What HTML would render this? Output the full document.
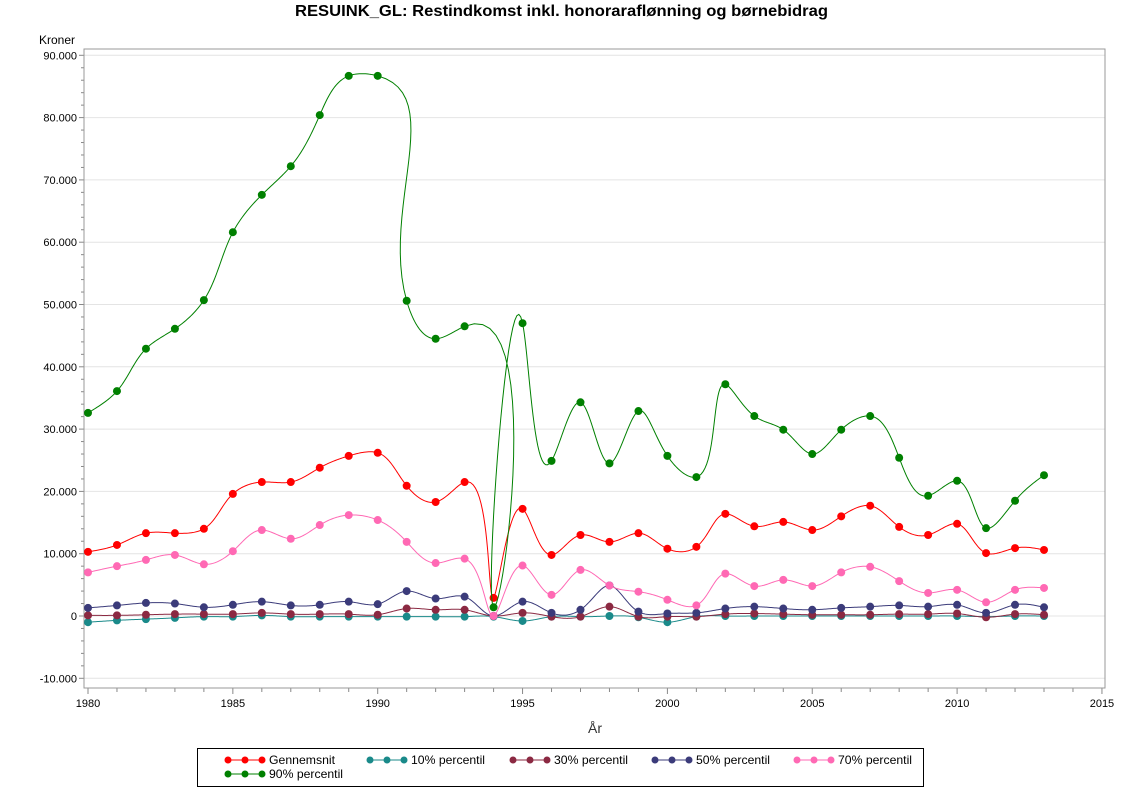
<!DOCTYPE html>
<html><head><meta charset="utf-8"><style>
body{margin:0;background:#fff;font-family:"Liberation Sans",Arial,sans-serif}
svg text{font-family:"Liberation Sans",Arial,sans-serif}
</style></head><body>
<svg id="s" width="1122" height="793" xmlns="http://www.w3.org/2000/svg">
<text x="295" y="16" font-size="16" font-weight="bold" textLength="533" lengthAdjust="spacingAndGlyphs">RESUINK_GL:  Restindkomst inkl. honoraraflønning og børnebidrag</text>
<text x="39" y="44" font-size="12">Kroner</text>
<g id="grid"></g>
<rect x="84" y="49" width="1021" height="639" fill="none" stroke="#999"/>
<g id="series"></g>
<text x="595" y="733" text-anchor="middle" font-size="14" fill="#333">År</text>
<rect x="197.5" y="748.5" width="726" height="38" fill="none" stroke="#000"/>
<g id="leg" font-size="12"></g>
</svg>
<script>
const NS="http://www.w3.org/2000/svg";
const X=y=>88+(y-1980)*28.97, Y=v=>616-v*0.00623;
function el(t,a,p,txt){const e=document.createElementNS(NS,t);for(const k in a)e.setAttribute(k,a[k]);if(txt!==undefined)e.textContent=txt;p.appendChild(e);return e;}
const g=document.getElementById('grid');
for(let v=-10000;v<=90000;v+=10000){const y=Y(v);
 el('line',{x1:84,x2:1105,y1:y,y2:y,stroke:'#e4e4e4'},g);
 el('line',{x1:79,x2:84,y1:y,y2:y,stroke:'#888'},g);
 el('text',{x:77,y:y+4,'text-anchor':'end','font-size':11},g,v.toLocaleString('de-DE'));}
for(let v=-10000;v<90000;v+=2000){if(v%10000)el('line',{x1:81,x2:84,y1:Y(v),y2:Y(v),stroke:'#888'},g);}
for(let yr=1980;yr<=2015;yr++){const x=X(yr),m=yr%5==0;
 el('line',{x1:x,x2:x,y1:688,y2:m?694:692,stroke:'#888'},g);
 if(m)el('text',{x:x,y:707,'text-anchor':'middle','font-size':11},g,yr);}
const D={
'#ff0000':[10300,11400,13300,13300,14000,19600,21500,21500,23800,25700,26200,20900,18300,21500,2900,17200,9800,13000,11900,13300,10800,11100,16400,14400,15100,13800,16000,17700,14300,13000,14800,10100,10900,10600],
'#1a8a8a':[-1000,-700,-500,-300,-100,-100,100,-100,-100,-100,-100,-100,-100,-100,-100,-800,-100,-100,0,-200,-1000,-100,0,0,0,0,0,0,0,0,0,-100,0,0],
'#8b2942':[100,100,200,300,300,300,500,300,300,300,200,1200,1000,1000,0,500,-100,-100,1500,-100,-100,-100,300,400,300,200,200,200,300,300,400,-200,300,200],
'#3b3b7a':[1300,1700,2100,2000,1400,1800,2300,1700,1800,2300,1900,4000,2800,3100,0,2300,500,1000,4900,700,400,500,1200,1500,1200,1000,1300,1500,1700,1500,1800,500,1800,1400],
'#ff69b4':[7000,8000,9000,9800,8300,10400,13800,12400,14600,16200,15400,11900,8500,9200,0,8100,3400,7400,4900,3900,2600,1700,6800,4800,5800,4800,7000,7900,5600,3700,4200,2200,4200,4500],
'#008000':[32600,36100,42900,46100,50700,61600,67600,72200,80400,86700,86700,50600,44500,46500,1400,47000,24900,34300,24500,32900,25700,22300,37200,32100,29900,26000,29900,32100,25400,19300,21700,14100,18500,22600]};
function natural(t,v){const n=t.length,h=[],a=new Array(n).fill(0),b=new Array(n).fill(0),c=new Array(n).fill(0),r=new Array(n).fill(0);
 for(let i=0;i<n-1;i++)h[i]=t[i+1]-t[i];
 b[0]=1;b[n-1]=1;
 for(let i=1;i<n-1;i++){a[i]=h[i-1];b[i]=2*(h[i-1]+h[i]);c[i]=h[i];r[i]=6*((v[i+1]-v[i])/h[i]-(v[i]-v[i-1])/h[i-1]);}
 for(let i=1;i<n;i++){const m=a[i]/b[i-1];b[i]-=m*c[i-1];r[i]-=m*r[i-1];}
 const M=new Array(n);M[n-1]=r[n-1]/b[n-1];
 for(let i=n-2;i>=0;i--)M[i]=(r[i]-c[i]*M[i+1])/b[i];
 return (i,s)=>{const hh=h[i],A=(t[i+1]-s)/hh,B=(s-t[i])/hh;
  return A*v[i]+B*v[i+1]+((A*A*A-A)*M[i]+(B*B*B-B)*M[i+1])*hh*hh/6;};}
const s=document.getElementById('series');
for(const c in D){const P=D[c].map((v,i)=>[X(1980+i),Y(v)]);
 const t=[0];for(let i=1;i<P.length;i++)t.push(t[i-1]+Math.hypot(P[i][0]-P[i-1][0],P[i][1]-P[i-1][1])+0.001);
 const fx=natural(t,P.map(p=>p[0])),fy=natural(t,P.map(p=>p[1]));
 let d='M'+P[0];
 for(let i=0;i<P.length-1;i++){for(let k=1;k<=24;k++){const u=t[i]+(t[i+1]-t[i])*k/24;d+=`L${fx(i,u).toFixed(2)},${fy(i,u).toFixed(2)}`;}}
 el('path',{d:d,fill:'none',stroke:c,'stroke-width':1},s);
 P.forEach(p=>el('circle',{cx:p[0],cy:p[1],r:4,fill:c},s));}
const L=document.getElementById('leg');
const items=[['#ff0000','Gennemsnit',228,760],['#1a8a8a','10% percentil',370,760],['#8b2942','30% percentil',513,760],['#3b3b7a','50% percentil',655,760],['#ff69b4','70% percentil',797,760],['#008000','90% percentil',228,774]];
items.forEach(([c,t,x,y])=>{el('line',{x1:x,x2:x+34,y1:y,y2:y,stroke:c},L);
 [x,x+17,x+34].forEach(cx=>el('circle',{cx:cx,cy:y,r:3.5,fill:c},L));
 el('text',{x:x+41,y:y+4,textLength:t=='Gennemsnit'?66:74,lengthAdjust:'spacingAndGlyphs'},L,t);});
</script>
</body></html>
